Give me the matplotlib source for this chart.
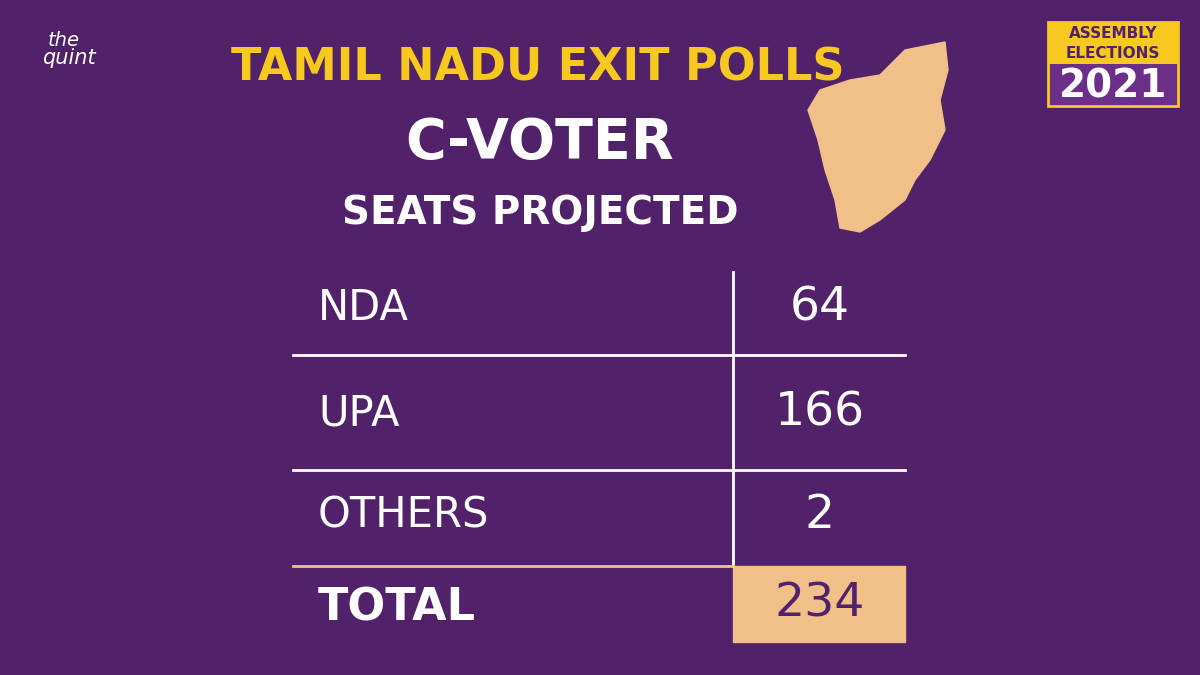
import matplotlib
matplotlib.use("Agg")
import matplotlib.pyplot as plt
from matplotlib.patches import Rectangle, Polygon

# data
parties = ['NDA', 'UPA', 'OTHERS']
seats = [64, 166, 2]
total_label = 'TOTAL'
total = 234

bg = '#51226a'
yellow = '#f7c81e'
tan = '#f0c088'

fig = plt.figure(figsize=(12, 6.75), dpi=100)
fig.patch.set_facecolor(bg)
ax = fig.add_axes([0, 0, 1, 1])
ax.set_xlim(0, 1200)
ax.set_ylim(675, 0)
ax.axis('off')
ax.set_facecolor(bg)

# rough map shape (behind titles)
map_pts = [(905, 50), (945, 42), (948, 70), (940, 100), (945, 130), (930, 160),
           (915, 180), (905, 200), (880, 220), (860, 232), (840, 228), (835, 200),
           (825, 170), (818, 140), (808, 110), (820, 90), (850, 80), (880, 75)]
ax.add_patch(Polygon(map_pts, closed=True, color=tan, zorder=1))

# titles
ax.text(538, 68, 'TAMIL NADU EXIT POLLS', color=yellow, fontsize=32, fontweight='heavy',
        ha='center', va='center', zorder=3)
ax.text(540, 143, 'C-VOTER', color='white', fontsize=40, fontweight='bold',
        ha='center', va='center', zorder=3)
ax.text(540, 213, 'SEATS PROJECTED', color='white', fontsize=28, fontweight='bold',
        ha='center', va='center', zorder=3)

# logo top right
ax.add_patch(Rectangle((1048, 22), 130, 84, facecolor='#6b2f8a', edgecolor=yellow, lw=2))
ax.add_patch(Rectangle((1048, 22), 130, 42, facecolor=yellow))
ax.text(1113, 33, 'ASSEMBLY', color=bg, fontsize=11, fontweight='bold', ha='center', va='center')
ax.text(1113, 53, 'ELECTIONS', color=bg, fontsize=11, fontweight='bold', ha='center', va='center')
ax.text(1113, 86, '2021', color='white', fontsize=28, fontweight='bold', ha='center', va='center')

# quint logo top left
ax.text(48, 40, 'the', color='white', fontsize=14, style='italic', va='center')
ax.text(42, 58, 'quint', color='white', fontsize=15, style='italic', va='center')

# table
row_y = [308, 413, 515]
for name, val, y in zip(parties, seats, row_y):
    ax.text(318, y, name, color='white', fontsize=30, ha='left', va='center')
    ax.text(820, y, str(val), color='white', fontsize=34, ha='center', va='center')

ax.plot([733, 733], [272, 566], color='white', lw=2)
for y in [355, 470]:
    ax.plot([293, 905], [y, y], color='white', lw=2)
ax.plot([293, 733], [566, 566], color=tan, lw=2)
ax.add_patch(Rectangle((733, 566), 172, 76, color=tan))
ax.text(318, 608, total_label, color='white', fontsize=32, fontweight='bold',
        ha='left', va='center')
ax.text(820, 604, str(total), color=bg, fontsize=34, ha='center', va='center')

fig.savefig('out.png', dpi=100, facecolor=bg)
